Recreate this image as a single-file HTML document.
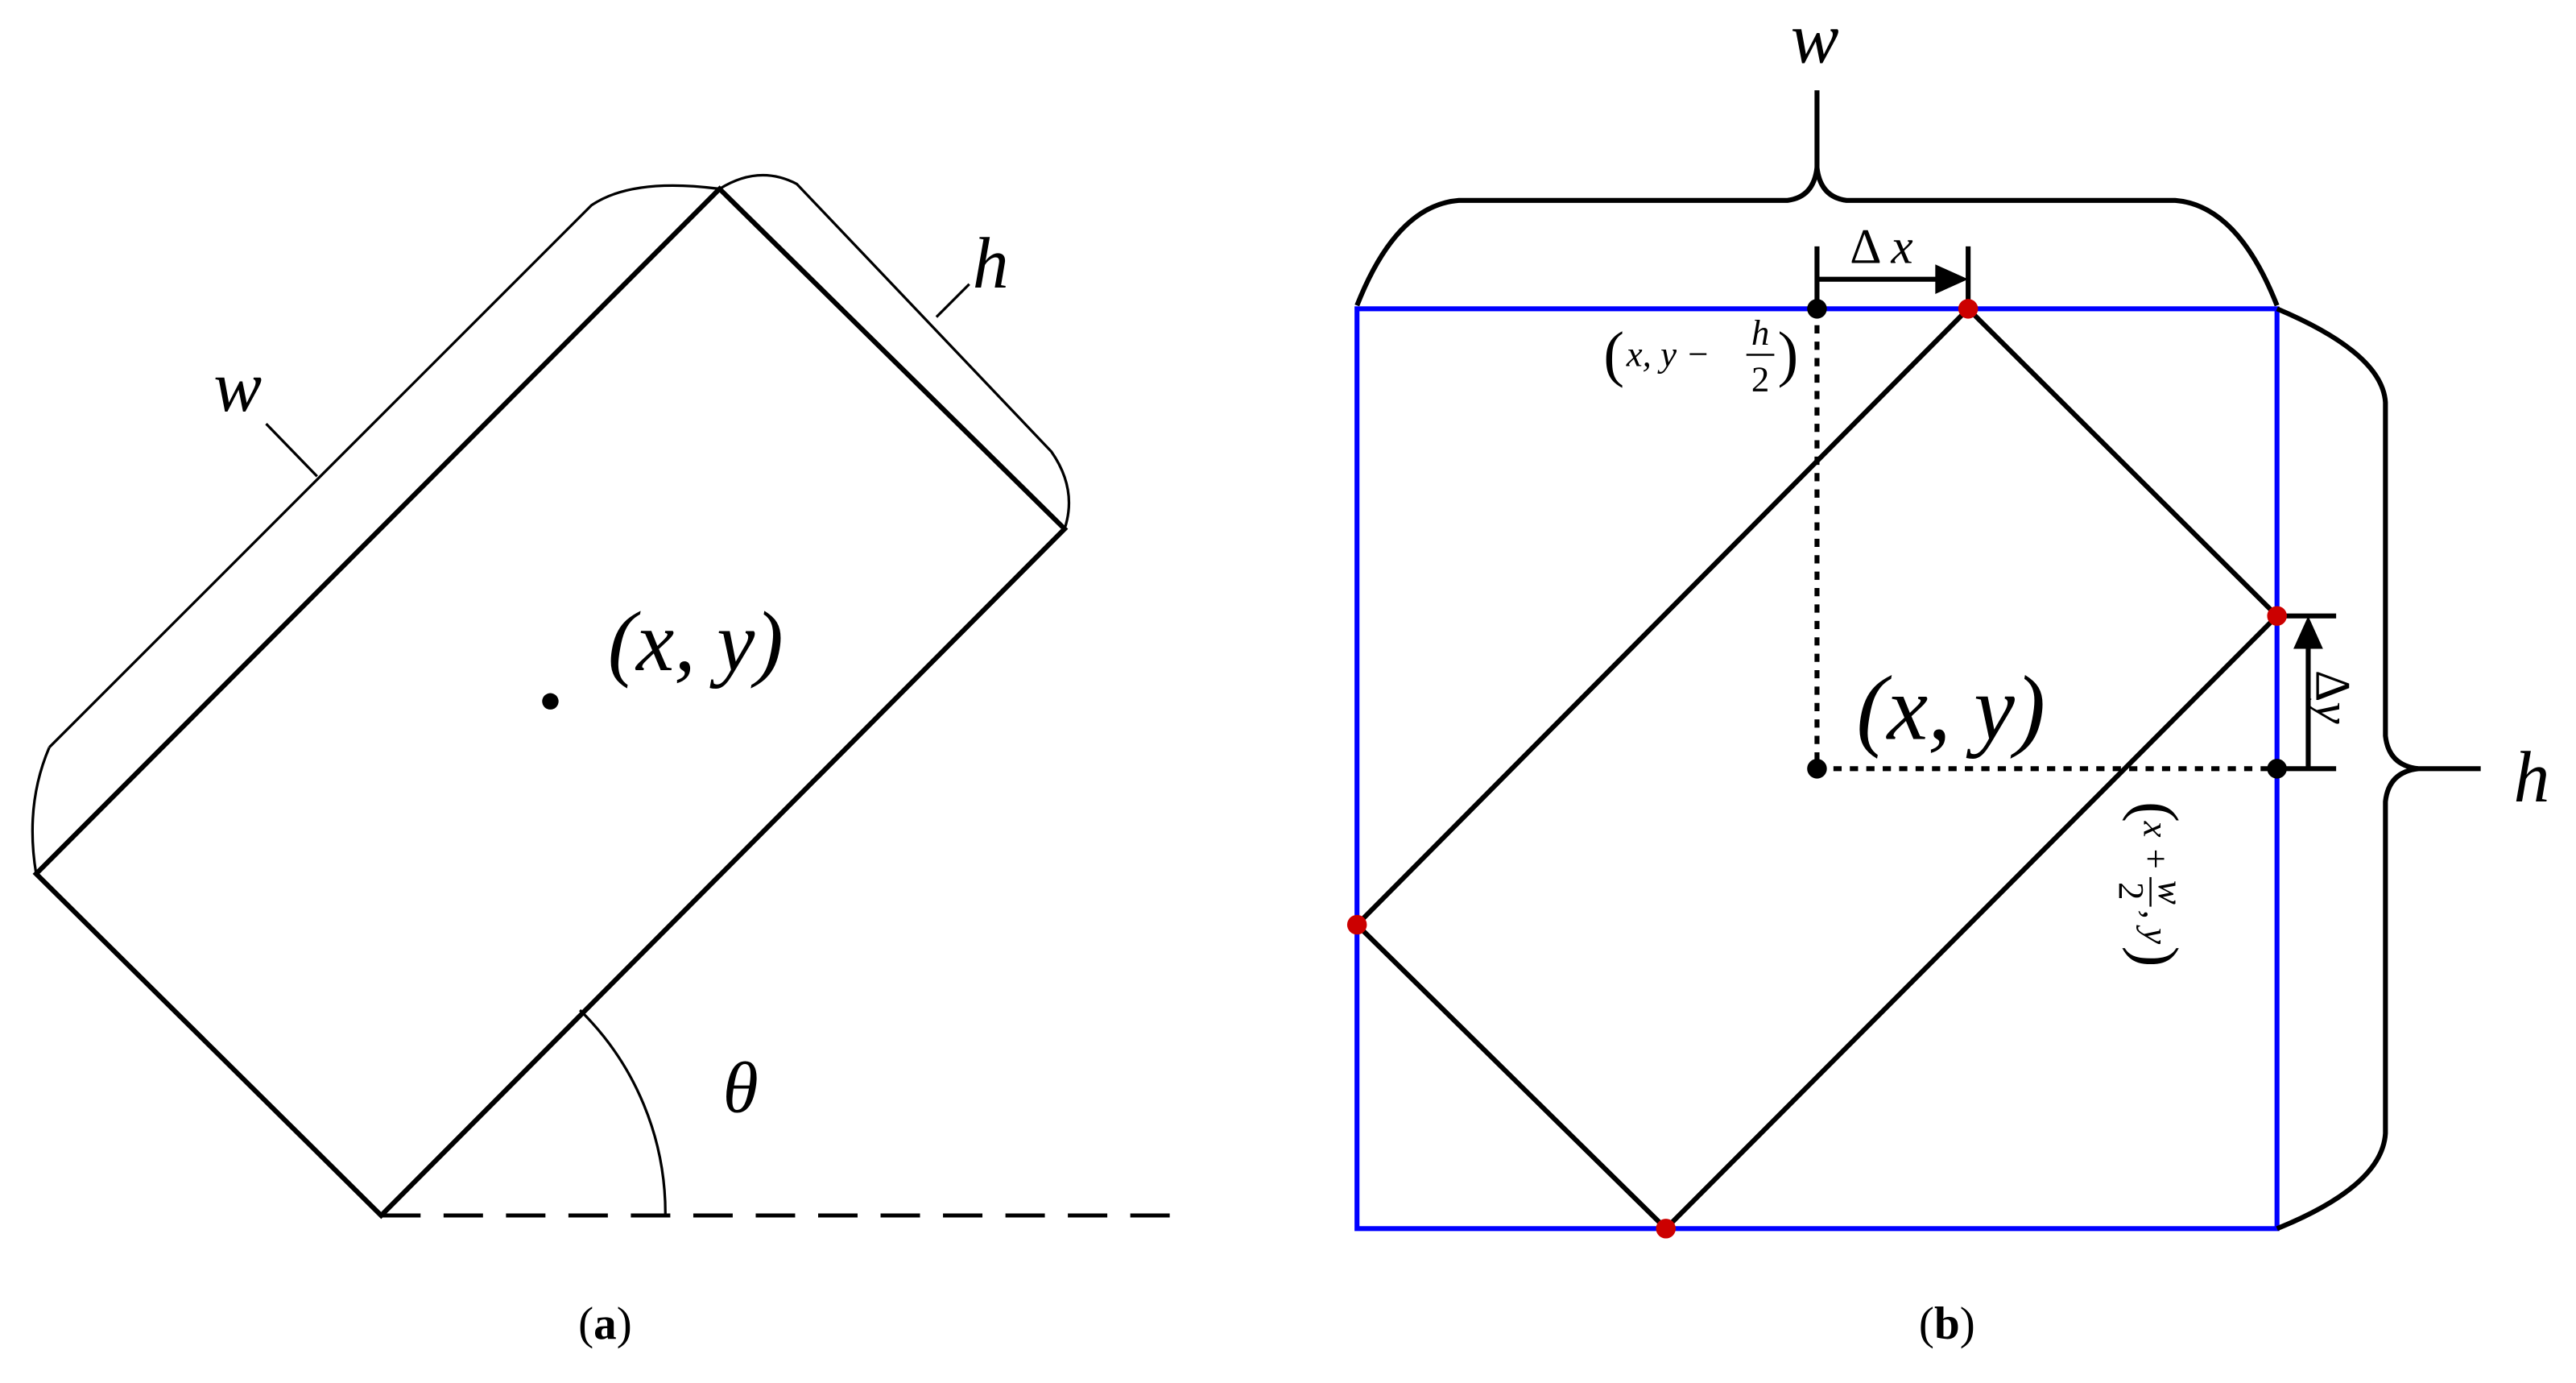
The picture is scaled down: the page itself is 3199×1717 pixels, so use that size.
<!DOCTYPE html>
<html><head><meta charset="utf-8"><style>html,body{margin:0;padding:0;background:#fff}svg{display:block}</style></head>
<body>
<svg width="3199" height="1717" viewBox="0 0 1568 842" preserveAspectRatio="none" xmlns="http://www.w3.org/2000/svg" font-family="'Liberation Serif', serif">
<rect width="1568" height="842" fill="#fff"/>
<!-- Panel a -->
<g fill="none" stroke="#000">
<polygon points="438,115 648,322 232,740 22,532" stroke-width="3"/>
<path d="M30,455 L360,125 Q385,108 438,115" stroke-width="1.6"/>
<path d="M30,455 Q15,490 22,532" stroke-width="1.6"/>
<path d="M193,290 L162,258" stroke-width="1.6"/>
<path d="M438,115 Q462,100 485,112 L640,275 Q656,298 648,322" stroke-width="1.6"/>
<path d="M570,193 L590,173" stroke-width="1.6"/>
<path d="M353,615 A173,173 0 0 1 405,740" stroke-width="1.6"/>
<path d="M232,740 L726,740" stroke-width="2.5" stroke-dasharray="24,14"/>
</g>
<circle cx="335" cy="427" r="5" fill="#000"/>
<text x="130" y="250" font-size="44" font-style="italic">w</text>
<text x="592" y="175" font-size="44" font-style="italic">h</text>
<text x="370" y="408" font-size="52" font-style="italic">(x, y)</text>
<text x="440" y="677" font-size="44" font-style="italic">θ</text>
<text x="352" y="815" font-size="28">(<tspan font-weight="bold">a</tspan>)</text>
<!-- Panel b -->
<rect x="826" y="188" width="560" height="560" fill="none" stroke="#0000ff" stroke-width="3"/>
<polygon points="1198,188 1386,375 1014,748 826,563" fill="none" stroke="#000" stroke-width="3"/>
<g fill="none" stroke="#000" stroke-width="3">
<path d="M826,186 Q850,125 888,122 L1088,122 Q1104,120 1106,102 Q1108,120 1124,122 L1324,122 Q1362,125 1386,186"/>
<path d="M1106,102 L1106,55"/>
<path d="M1386,188 Q1450,215 1452,245 L1452,448 Q1454,466 1472,468 L1510,468"/>
<path d="M1472,468 Q1454,470 1452,488 L1452,690 Q1450,722 1386,748"/>
<path d="M1106,188 L1106,468 L1386,468" stroke-dasharray="5,5"/>
<path d="M1106,150 L1106,186 M1198,150 L1198,186 M1106,170 L1182,170"/>
<path d="M1386,375 L1422,375 M1386,468 L1422,468 M1405,468 L1405,392"/>
</g>
<polygon points="1198,170 1178,161 1178,179" fill="#000"/>
<polygon points="1405,375 1396,395 1414,395" fill="#000"/>
<g fill="#000"><circle cx="1106" cy="188" r="6"/><circle cx="1106" cy="468" r="6"/><circle cx="1386" cy="468" r="6"/></g>
<g fill="#cc0000"><circle cx="1198" cy="188" r="6"/><circle cx="1386" cy="375" r="6"/><circle cx="1014" cy="748" r="6"/><circle cx="826" cy="563" r="6"/></g>
<text x="1090" y="38" font-size="44" font-style="italic">w</text>
<text x="1530" y="488" font-size="44" font-style="italic">h</text>
<text x="1126" y="160" font-size="30">Δ <tspan font-style="italic">x</tspan></text>
<text transform="translate(1410,408) rotate(90)" font-size="30">Δ<tspan font-style="italic">y</tspan></text>
<text x="1130" y="450" font-size="56" font-style="italic">(x, y)</text>
<!-- (x, y - h/2) -->
<g font-size="22">
<text x="976" y="228" font-size="38">(</text>
<text x="990" y="223" font-style="italic">x, y −</text>
<text x="1066" y="210" font-style="italic">h</text>
<line x1="1063" y1="216" x2="1080" y2="216" stroke="#000" stroke-width="1.2"/>
<text x="1066" y="238">2</text>
<text x="1082" y="228" font-size="38">)</text>
</g>
<!-- (x + w/2, y) rotated -->
<g transform="translate(1300,488) rotate(90)" font-size="22">
<text x="0" y="0" font-size="38">(</text>
<text x="12" y="-5" font-style="italic">x +</text>
<text x="48" y="-14" font-style="italic">w</text>
<line x1="46" y1="-9" x2="64" y2="-9" stroke="#000" stroke-width="1.2"/>
<text x="49" y="10">2</text>
<text x="66" y="-5" font-style="italic">, y</text>
<text x="88" y="0" font-size="38">)</text>
</g>
<text x="1168" y="815" font-size="28">(<tspan font-weight="bold">b</tspan>)</text>
</svg>
</body></html>
